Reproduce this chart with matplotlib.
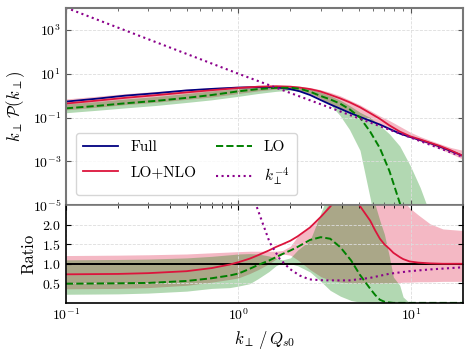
import numpy as np
import matplotlib
matplotlib.use("Agg")
import matplotlib.pyplot as plt
from matplotlib.ticker import FixedLocator, NullLocator, LogLocator

plt.rcParams['font.family'] = ['cmr10']
plt.rcParams['mathtext.fontset'] = 'cm'
plt.rcParams['axes.formatter.use_mathtext'] = True

# ---- top panel, values are log10 of k P(k)
k_top = [0.1, 0.15, 0.22, 0.33, 0.5, 0.7, 1.0, 1.3, 1.66, 2.0, 2.26, 2.6, 2.96, 3.4,
         3.87, 4.4, 5.06, 5.8, 6.6, 7.5, 8.6, 9.9, 11.3, 13, 14.7, 17, 20]
full_log = [-0.27, -0.14, 0.0, 0.11, 0.24, 0.31, 0.37, 0.39, 0.38, 0.3, 0.2, 0.03, -0.18, -0.4,
            -0.59, -0.78, -0.97, -1.15, -1.32, -1.52, -1.73, -1.89, -2.03, -2.18, -2.33, -2.53, -2.75]
lonlo_log = [-0.36, -0.23, -0.1, 0.02, 0.15, 0.25, 0.35, 0.41, 0.43, 0.41, 0.37, 0.3, 0.2, 0.04,
             -0.12, -0.3, -0.53, -0.8, -1.06, -1.36, -1.64, -1.86, -2.0, -2.16, -2.3, -2.5, -2.75]
lonlo_lo_log = [-0.65, -0.53, -0.41, -0.3, -0.17, -0.06, 0.1, 0.22, 0.3, 0.3, 0.22, 0.05, -0.17, -0.38,
                -0.57, -0.76, -0.95, -1.15, -1.35, -1.55, -1.75, -1.92, -2.08, -2.25, -2.42, -2.65, -2.9]
lonlo_hi_log = [-0.15, -0.03, 0.09, 0.19, 0.3, 0.37, 0.44, 0.47, 0.48, 0.47, 0.43, 0.37, 0.28, 0.15,
                0.0, -0.2, -0.42, -0.68, -0.93, -1.14, -1.4, -1.67, -1.87, -2.05, -2.2, -2.37, -2.5]

k_lo = [0.1, 0.15, 0.22, 0.33, 0.5, 0.7, 1.0, 1.3, 1.66, 2.0, 2.26, 2.6, 2.96, 3.4,
        3.87, 4.4, 5.06, 5.8, 6.6, 7.5, 8.6, 9.9]
lo_log = [-0.58, -0.47, -0.35, -0.24, -0.1, 0.03, 0.2, 0.3, 0.36, 0.36, 0.32, 0.18, 0.0, -0.17,
          -0.36, -0.62, -1.0, -1.65, -2.4, -3.45, -4.9, -6.5]

k_loband = [0.1, 0.15, 0.22, 0.33, 0.5, 0.7, 1.0, 1.3, 1.66, 2.0, 2.26, 2.6, 2.96, 3.4,
            3.87, 4.4, 5.06, 5.8, 6.6, 7.5, 8.6, 9.9, 11.3, 13, 14.7]
lo_lo_log = [-0.78, -0.67, -0.56, -0.45, -0.31, -0.19, -0.03, 0.1, 0.2, 0.25, 0.22, 0.1, -0.1, -0.4,
             -0.9, -1.55, -2.5, -4.7, -7, -7, -7, -7, -7, -7, -7]
lo_hi_log = [-0.38, -0.27, -0.15, -0.04, 0.1, 0.22, 0.33, 0.4, 0.43, 0.42, 0.38, 0.29, 0.17, 0.0,
             -0.2, -0.45, -0.76, -1.0, -1.36, -1.75, -2.3, -3.2, -4.2, -5.5, -7]

k_pow = [0.1, 1.0, 20]
pow_log = [4.02, 1.0, -2.8]

# ---- ratio panel
k_r = [0.1, 0.2, 0.3, 0.5, 0.7, 0.89, 1.0, 1.16, 1.3, 1.5, 1.65, 1.8, 2.0, 2.2, 2.6, 3.0, 3.4,
       3.9, 4.5, 5.05, 5.8, 6.2, 6.6, 7.0, 7.5, 7.9, 8.6, 9.0, 9.8, 11, 12.9, 15.3, 20]
r_lonlo = [0.73, 0.74, 0.76, 0.81, 0.89, 0.98, 1.04, 1.13, 1.22, 1.34, 1.43, 1.5, 1.59, 1.7, 1.93, 2.2, 2.46,
           2.8, 2.85, 2.48, 2.1, 1.85, 1.64, 1.5, 1.38, 1.28, 1.17, 1.12, 1.06, 1.03, 1.01, 1.0, 1.0]
r_lo = [0.49, 0.5, 0.51, 0.56, 0.63, 0.7, 0.75, 0.87, 0.97, 1.08, 1.17, 1.25, 1.34, 1.43, 1.61, 1.68, 1.64,
        1.42, 1.08, 0.72, 0.36, 0.2, 0.08, 0.03, 0.01, 0.0, 0.0, 0.0, 0.0, 0.0, 0.0, 0.0, 0.0]
r_lonlo_hi = [1.21, 1.22, 1.23, 1.25, 1.28, 1.3, 1.31, 1.32, 1.32, 1.32, 1.32, 1.34, 1.45, 1.7, 1.93, 2.2, 2.6,
              3.0, 3.3, 3.5, 3.5, 3.4, 3.3, 3.2, 3.0, 2.9, 2.75, 2.62, 2.43, 2.25, 2.02, 1.89, 1.85]
r_lonlo_lo = [0.36, 0.37, 0.39, 0.45, 0.53, 0.6, 0.64, 0.75, 0.85, 1.0, 1.12, 1.25, 1.22, 1.1, 0.85, 0.67, 0.58,
              0.53, 0.51, 0.5, 0.5, 0.5, 0.5, 0.51, 0.51, 0.52, 0.52, 0.53, 0.53, 0.54, 0.54, 0.55, 0.55]
r_lo_hi = [1.1, 1.11, 1.12, 1.15, 1.19, 1.23, 1.25, 1.26, 1.25, 1.2, 1.14, 1.1, 1.15, 1.35, 1.6, 2.3, 2.9,
           3.5, 4.0, 4.0, 3.2, 2.5, 2.1, 1.76, 1.17, 0.66, 0.45, 0.15, 0.0, 0.0, 0.0, 0.0, 0.0]
r_lo_lo = [0.22, 0.23, 0.25, 0.3, 0.37, 0.39, 0.43, 0.49, 0.62, 0.8, 0.95, 1.03, 1.0, 0.95, 0.79, 0.55, 0.32,
           0.17, 0.06, 0.02, 0.0, 0.0, 0.0, 0.0, 0.0, 0.0, 0.0, 0.0, 0.0, 0.0, 0.0, 0.0, 0.0]

k_rpow = [1.2, 1.27, 1.385, 1.515, 1.73, 1.98, 2.26, 2.58, 3.0, 3.38, 4.4, 5.8, 7.5, 9.8, 12.9, 20]
r_pow = [3.0, 2.48, 2.02, 1.55, 1.13, 0.87, 0.7, 0.6, 0.58, 0.575, 0.575, 0.64, 0.745, 0.81, 0.855, 0.91]

c_full = '#000080'
c_nlo = '#DC143C'
c_lo = 'green'
c_pow = '#8B008B'

fig = plt.figure(figsize=(4.71, 3.53), dpi=100)
ax = fig.add_axes([0.140, 0.419, 0.843, 0.558])
axr = fig.add_axes([0.140, 0.142, 0.843, 0.277], sharex=ax)

p = lambda v: np.power(10.0, np.array(v))

ax.fill_between(k_top, p(lonlo_lo_log), p(lonlo_hi_log), color=c_nlo, alpha=0.3, lw=0)
ax.fill_between(k_loband, p(lo_lo_log), p(lo_hi_log), color=c_lo, alpha=0.3, lw=0)
ax.plot(k_top, p(full_log), color=c_full, lw=1.3, label='Full')
ax.plot(k_top, p(lonlo_log), color=c_nlo, lw=1.3, label='LO+NLO')
ax.plot(k_lo, p(lo_log), color=c_lo, lw=1.4, ls='--', label='LO')
ax.plot(k_pow, p(pow_log), color=c_pow, lw=1.5, ls=':', label=r'$k_\perp^{-4}$')

ax.set_xscale('log')
ax.set_yscale('log')
ax.set_xlim(0.1, 20)
ax.set_ylim(1e-5, 1e4)
ax.yaxis.set_major_locator(FixedLocator([1e-5, 1e-3, 1e-1, 1e1, 1e3]))
ax.yaxis.set_minor_locator(NullLocator())
ax.set_ylabel(r'$k_\perp\,\mathcal{P}(k_\perp)$', fontsize=12)
ax.tick_params(axis='both', which='both', direction='in', top=True, right=True,
               labelbottom=False, labelsize=10, colors='#555555', labelcolor='black')
for s in ax.spines.values():
    s.set_color('#777777')
    s.set_linewidth(1.5)
ax.grid(True, which='major', color='#dddddd', ls='--', lw=0.6)
leg = ax.legend(loc='lower left', ncol=2, fontsize=11, frameon=True, fancybox=True,
                edgecolor='#cccccc', handlelength=2.3, columnspacing=1.3, labelspacing=0.75,
                handletextpad=0.8, borderpad=0.5, bbox_to_anchor=(0.005, 0.01))

axr.fill_between(k_r, r_lonlo_lo, r_lonlo_hi, color=c_nlo, alpha=0.3, lw=0)
axr.fill_between(k_r, r_lo_lo, r_lo_hi, color=c_lo, alpha=0.3, lw=0)
axr.axhline(1.0, color='black', lw=1.4)
axr.plot(k_r, r_lonlo, color=c_nlo, lw=1.3)
axr.plot(k_r, r_lo, color=c_lo, lw=1.4, ls='--')
axr.plot(k_rpow, r_pow, color=c_pow, lw=1.5, ls=':')
axr.set_ylim(0, 2.5)
axr.set_yticks([0.5, 1.0, 1.5, 2.0])
axr.set_xlim(0.1, 20)
axr.xaxis.set_major_locator(LogLocator(base=10))
axr.set_ylabel('Ratio', fontsize=12)
axr.set_xlabel(r'$k_\perp\,/\,Q_{s0}$', fontsize=12)
axr.tick_params(axis='both', which='both', direction='in', top=True, right=True,
                bottom=False, labelsize=10)
axr.grid(True, which='major', color='#dddddd', ls='--', lw=0.6)
for s in axr.spines.values():
    s.set_linewidth(1.2)
axr.spines['top'].set_color('#777777')

fig.align_ylabels([ax, axr])
fig.savefig('out.png', dpi=100)
